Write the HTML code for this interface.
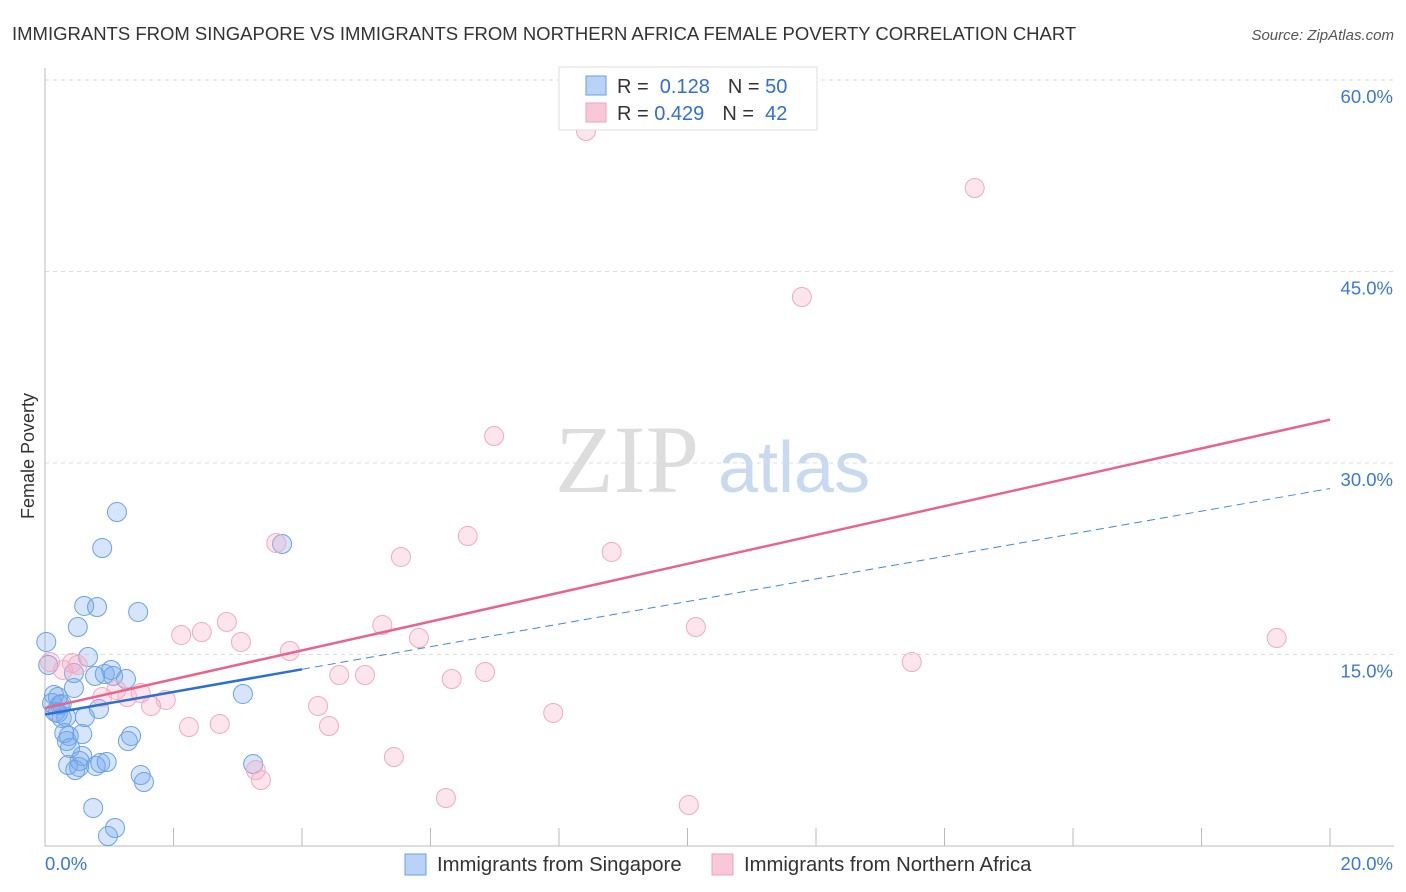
<!DOCTYPE html>
<html><head><meta charset="utf-8"><style>
body{margin:0;background:#fff;font-family:"Liberation Sans",sans-serif;}
svg{display:block}
</style></head><body>
<svg id="c" width="1406" height="892">
<text x="12" y="40" font-size="18.5" fill="#333">IMMIGRANTS FROM SINGAPORE VS IMMIGRANTS FROM NORTHERN AFRICA FEMALE POVERTY CORRELATION CHART</text>
<text x="1394" y="40" font-size="15" fill="#555" font-style="italic" text-anchor="end">Source: ZipAtlas.com</text>
<text x="555" y="492" font-size="96" fill="#ddd" font-family="Liberation Serif,serif">ZIP</text>
<text x="718" y="492" font-size="72" fill="#c8daf0">atlas</text>
<text transform="translate(34,456) rotate(-90)" font-size="18" fill="#333" text-anchor="middle">Female Poverty</text>
<g id="grid"></g><g id="ticks"></g><g id="pts"></g><g id="lines"></g>
<g>
<rect x="559" y="67" width="258" height="63" fill="#fff" stroke="#ddd"/>
<rect x="586" y="76" width="20" height="19" fill="#b8d3f5" stroke="#6aa0e0"/>
<rect x="586" y="103" width="20" height="19" fill="#f9c8d8" stroke="#f0a0bb"/>
<text x="617" y="93" font-size="20" fill="#333">R = <tspan fill="#2f6fd6">&#160;0.128</tspan><tspan dx="18">N = </tspan><tspan fill="#2f6fd6">50</tspan></text>
<text x="617" y="120" font-size="20" fill="#333">R = <tspan fill="#2f6fd6">0.429</tspan><tspan dx="18">N = </tspan><tspan fill="#2f6fd6">&#160;42</tspan></text>
</g>
<g>
<rect x="405" y="854" width="21" height="21" fill="#b8d3f5" stroke="#6aa0e0"/>
<text x="437" y="871" font-size="20.3" fill="#333">Immigrants from Singapore</text>
<rect x="712" y="854" width="21" height="21" fill="#f9c8d8" stroke="#f0a0bb"/>
<text x="744" y="871" font-size="20.3" fill="#333">Immigrants from Northern Africa</text>
</g>
</svg>
<script>
const blueX=[0.02,0.14,0.20,0.11,0.23,0.16,0.26,0.33,0.30,0.34,0.37,0.58,0.58,0.36,0.47,0.53,0.54,0.79,0.86,0.96,0.61,0.81,0.51,0.89,1.12,1.45,0.67,0.78,0.93,1.03,1.06,1.26,0.45,0.84,0.62,0.45,1.29,1.34,1.49,1.54,0.75,1.09,0.98,3.08,3.24,3.69,0.05,0.26,0.20,0.39];
const blueY=[15.98,11.83,11.67,11.20,11.04,10.50,10.03,10.10,8.85,8.22,8.62,8.77,7.05,6.34,5.95,6.19,6.66,6.27,6.50,6.58,18.80,18.72,17.15,23.34,26.16,18.33,14.80,13.32,13.47,13.79,13.32,13.08,12.38,10.73,10.10,13.55,8.22,8.62,5.56,5.01,2.98,1.41,0.78,11.91,6.42,23.66,14.18,11.12,10.42,7.68];
const pinkX=[8.42,14.47,11.78,6.99,6.58,5.54,8.82,3.60,2.83,2.12,2.44,3.05,5.25,5.82,3.81,4.58,4.98,6.33,6.85,10.13,13.49,19.17,4.25,4.42,2.24,2.72,1.65,1.88,1.49,1.28,0.89,1.11,0.28,0.51,0.08,7.91,5.43,6.24,10.02,3.28,3.36,0.42];
const pinkY=[56.01,51.54,43.00,32.11,24.28,22.64,23.03,23.73,17.55,16.53,16.76,15.98,17.31,16.29,15.27,13.39,13.39,13.08,13.63,17.15,14.41,16.29,10.97,9.40,9.32,9.56,10.97,11.44,11.98,11.67,11.67,12.22,13.79,14.18,14.41,10.42,6.97,3.76,3.21,5.95,5.17,14.33];
const yTicks=[15,30,45,60];
const yTickLabels=["15.0%","30.0%","45.0%","60.0%"];
const xTicks=[0,2,4,6,8,10,12,14,16,18,20];
const blueTrend=[10.3,28.0];
const pinkTrend=[10.8,33.4];
const blueSolidEnd=4;

const NS="http://www.w3.org/2000/svg";
const sx=v=>45+v/20*1285;
const sy=v=>846-v/60*766;
function mk(tag,attrs,parent){const e=document.createElementNS(NS,tag);for(const k in attrs)e.setAttribute(k,attrs[k]);parent.appendChild(e);return e;}
const grid=document.getElementById('grid'),ticks=document.getElementById('ticks'),pts=document.getElementById('pts'),lines=document.getElementById('lines');
yTicks.forEach((t,i)=>{
  const l=mk('line',{x1:45,x2:1394,y1:sy(t),y2:sy(t),stroke:'#ddd','stroke-dasharray':'4,4'},grid);
  
  
  const tx=mk('text',{x:1393,y:sy(t)+23,'font-size':18.5,fill:'#3a78d8','text-anchor':'end'},grid);
  tx.textContent=yTickLabels[i];
  
  
});
const ax=mk('path',{d:'M45,68 V846 H1394',stroke:'#bbb',fill:'none'},ticks);


xTicks.forEach(t=>{
  const l=mk('line',{x1:sx(t),x2:sx(t),y1:828,y2:846,stroke:'#bbb'},ticks);
  
  
});
const xl0=mk('text',{x:45,y:870,'font-size':18.5,fill:'#3a78d8'},ticks);xl0.textContent=xTicks[0].toFixed(1)+'%';


const xl1=mk('text',{x:1393,y:870,'font-size':18.5,fill:'#3a78d8','text-anchor':'end'},ticks);xl1.textContent=xTicks[xTicks.length-1].toFixed(1)+'%';


blueX.forEach((x,i)=>{
  const c=mk('circle',{cx:sx(x),cy:sy(blueY[i]),r:9.5,fill:'rgba(120,170,235,0.3)',stroke:'#6aa3e6','stroke-width':1},pts);
  
  
});
pinkX.forEach((x,i)=>{
  const c=mk('circle',{cx:sx(x),cy:sy(pinkY[i]),r:9.5,fill:'rgba(245,170,195,0.3)',stroke:'#f2aac2','stroke-width':1},pts);
  
  
});
const bAt=x=>blueTrend[0]+(blueTrend[1]-blueTrend[0])*x/20;
const pl=mk('line',{x1:sx(0),y1:sy(pinkTrend[0]),x2:sx(20),y2:sy(pinkTrend[1]),stroke:'#e8648f','stroke-width':2.5},lines);


const bl=mk('line',{x1:sx(0),y1:sy(bAt(0)),x2:sx(blueSolidEnd),y2:sy(bAt(blueSolidEnd)),stroke:'#2d6fd2','stroke-width':2.5},lines);


const bd=mk('line',{x1:sx(blueSolidEnd),y1:sy(bAt(blueSolidEnd)),x2:sx(20),y2:sy(bAt(20)),stroke:'#4a85d8','stroke-width':1,'stroke-dasharray':'8,5'},lines);


</script>
</body></html>
